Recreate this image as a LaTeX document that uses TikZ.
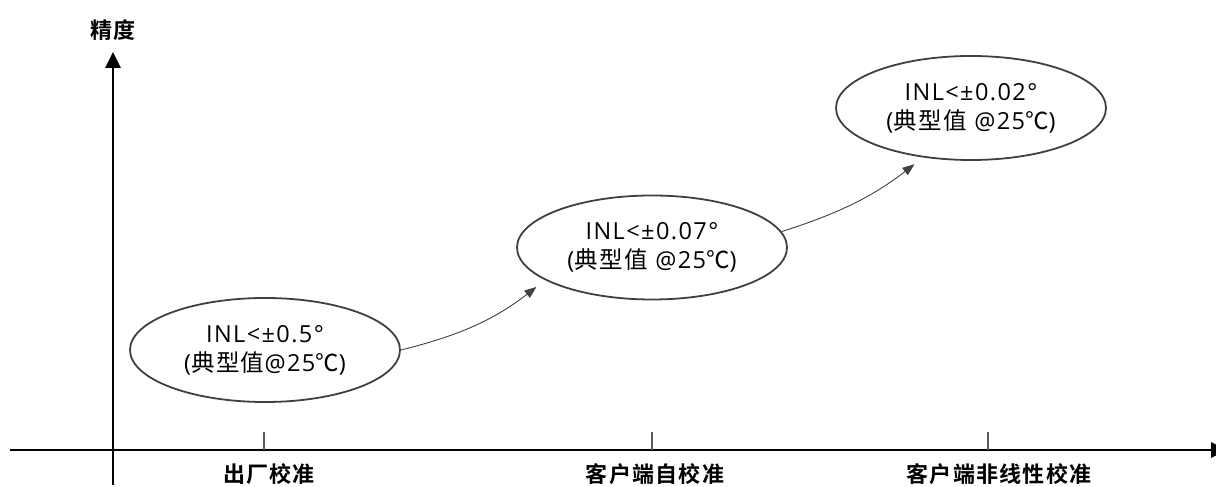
\documentclass[tikz,border=0pt]{standalone}
\usepackage{fontspec}
\setmainfont{Open Sans}[LetterSpace=6]
\newfontfamily\cjk{Noto Sans CJK SC}[LetterSpace=6]
\newfontfamily\cjkb{Noto Sans CJK SC Bold}[LetterSpace=6]
\usetikzlibrary{shapes.geometric,arrows.meta}
\definecolor{edge}{HTML}{404040}
\definecolor{tickc}{HTML}{5A5A5A}
\tikzset{
  ell/.style={ellipse, draw=edge, line width=1.8pt, minimum width=270pt, minimum height=104pt,
    inner sep=0pt, align=center, font=\fontsize{23.5pt}{29pt}\selectfont, text=black},
  conn/.style={draw=edge, line width=0.9pt, -{Triangle[length=12pt,width=9pt]}, shorten >=11pt},
  axis/.style={line width=2.6pt, black, -{Triangle[length=16pt,width=15pt]}},
  tickline/.style={draw=tickc, line width=1.3pt},
  lbl/.style={font=\fontsize{22pt}{24pt}\selectfont\cjkb, inner sep=0pt}
}
\begin{document}
\begin{tikzpicture}[x=1pt,y=1pt]
\useasboundingbox (0,0) rectangle (1216,487);
% axes
\coordinate (ybot) at (113,2);
\coordinate (ytop) at (113,435);
\coordinate (xl) at (10,37);
\coordinate (xr) at (1227,37);
\draw[axis] (ybot) -- (ytop);
\draw[axis] (xl) -- (xr);
\node[lbl] (ylab) at (113,457) {精度};
% ticks
\coordinate (t1) at (264,37); \coordinate (t1u) at (264,55);
\coordinate (t2) at (652,37); \coordinate (t2u) at (652,55);
\coordinate (t3) at (988,37); \coordinate (t3u) at (988,55);
\draw[tickline] (t1) -- (t1u);
\draw[tickline] (t2) -- (t2u);
\draw[tickline] (t3) -- (t3u);
\node[lbl] (l1) at (269,13) {出厂校准};
\node[lbl] (l2) at (655,13) {客户端自校准};
\node[lbl] (l3) at (999,13) {客户端非线性校准};
% ellipses
\node[ell] (e1) at (265,137) {INL<±0.5°\\({\cjk 典型值}@25{\cjk ℃})};
\node[ell] (e2) at (652,239.5) {INL<±0.07°\\({\cjk 典型值} @25{\cjk ℃})};
\node[ell] (e3) at (971,379) {INL<±0.02°\\({\cjk 典型值} @25{\cjk ℃})};
% connectors
\draw[conn] (e1.east) to[bend right=12] (e2.197);
\draw[conn] (e2.7) to[bend right=10] (e3.226);
\end{tikzpicture}
\end{document}
